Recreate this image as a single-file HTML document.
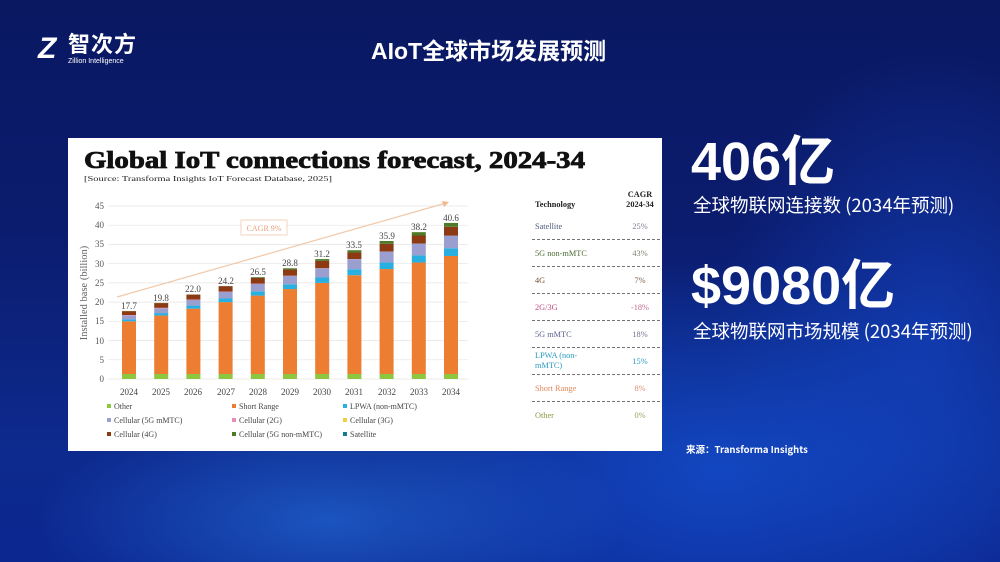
<!DOCTYPE html>
<html><head><meta charset="utf-8">
<style>
html,body{margin:0;padding:0}
body{width:1000px;height:562px;overflow:hidden;position:relative;font-family:"Liberation Sans","Noto Sans CJK SC",sans-serif;
background:
radial-gradient(ellipse 420px 160px at 330px 520px,rgba(40,120,230,.55),transparent 70%),
radial-gradient(ellipse 500px 300px at 720px 470px,rgba(20,80,210,.75),transparent 70%),
radial-gradient(ellipse 300px 400px at 930px 330px,rgba(20,70,200,.6),transparent 70%),
linear-gradient(180deg,#0a1862 0%,#0b1c6e 40%,#0d2a8e 80%,#0c2790 100%);}
.abs{position:absolute}
.w{color:#fff}
</style></head><body>
<div class="abs w" style="left:38px;top:34px;font-size:30px;font-style:italic;font-weight:bold;line-height:30px">Z</div>
<div class="abs w" style="left:68px;top:33px;font-size:22px;font-weight:bold;line-height:24px;letter-spacing:1px">智次方</div>
<div class="abs w" style="left:68px;top:58px;font-size:7px;line-height:8px">Zillion Intelligence</div>
<div class="abs w" style="left:371px;top:37px;font-size:23px;font-weight:bold;line-height:28px">AIoT全球市场发展预测</div>

<div class="abs" style="left:68px;top:138px;width:594px;height:313px;background:#fff"></div>
<svg class="abs" style="left:0;top:0" width="1000" height="562" xmlns="http://www.w3.org/2000/svg" font-family="Liberation Serif, serif">
<text x="84" y="168" font-size="24" font-weight="bold" fill="#111" stroke="#111" stroke-width="0.8" textLength="501" lengthAdjust="spacingAndGlyphs">Global IoT connections forecast, 2024-34</text>
<text x="84" y="181" font-size="7.5" fill="#222" textLength="248" lengthAdjust="spacingAndGlyphs">[Source: Transforma Insights IoT Forecast Database, 2025]</text>
<g stroke="#e4e4e4" stroke-width="0.7">
<line x1="108" x2="468" y1="206" y2="206"/><line x1="108" x2="468" y1="225.2" y2="225.2"/><line x1="108" x2="468" y1="244.4" y2="244.4"/><line x1="108" x2="468" y1="263.7" y2="263.7"/><line x1="108" x2="468" y1="282.9" y2="282.9"/><line x1="108" x2="468" y1="302.1" y2="302.1"/><line x1="108" x2="468" y1="321.3" y2="321.3"/><line x1="108" x2="468" y1="340.6" y2="340.6"/><line x1="108" x2="468" y1="359.8" y2="359.8"/><line x1="108" x2="468" y1="379" y2="379"/>
</g>
<g font-size="9" fill="#555" text-anchor="end">
<text x="104" y="209">45</text><text x="104" y="228">40</text><text x="104" y="247">35</text><text x="104" y="267">30</text><text x="104" y="286">25</text><text x="104" y="305">20</text><text x="104" y="324">15</text><text x="104" y="344">10</text><text x="104" y="363">5</text><text x="104" y="382">0</text>
</g>
<text transform="translate(87,293) rotate(-90)" font-size="10.5" fill="#666" text-anchor="middle">Installed base (billion)</text>
<line x1="117" y1="297" x2="446" y2="203" stroke="#f0c8a8" stroke-width="1.2"/>
<polygon points="449,202 442,201 444,207" fill="#f0b890"/>
<rect x="241" y="220" width="46" height="15" fill="#fff" stroke="#f3c9ad" stroke-width="0.8"/>
<text x="264" y="231" font-size="8" fill="#e8a07a" text-anchor="middle">CAGR 9%</text>
<g id="bars"></g>
<g font-size="9" fill="#444" text-anchor="middle" id="vals">
<text x="129" y="309">17.7</text><text x="161" y="301">19.8</text><text x="193" y="292">22.0</text><text x="226" y="284">24.2</text><text x="258" y="275">26.5</text><text x="290" y="266">28.8</text><text x="322" y="257">31.2</text><text x="354" y="248">33.5</text><text x="387" y="239">35.9</text><text x="419" y="230">38.2</text><text x="451" y="221">40.6</text>
</g>
<g font-size="9" fill="#444" text-anchor="middle">
<text x="129" y="395">2024</text><text x="161" y="395">2025</text><text x="193" y="395">2026</text><text x="226" y="395">2027</text><text x="258" y="395">2028</text><text x="290" y="395">2029</text><text x="322" y="395">2030</text><text x="354" y="395">2031</text><text x="387" y="395">2032</text><text x="419" y="395">2033</text><text x="451" y="395">2034</text>
</g>
<g font-size="8" fill="#444">
<rect x="107" y="404" width="4" height="4" fill="#8dc63f"/><text x="114" y="409">Other</text>
<rect x="232" y="404" width="4" height="4" fill="#ed7d31"/><text x="239" y="409">Short Range</text>
<rect x="343" y="404" width="4" height="4" fill="#2ab0e0"/><text x="350" y="409">LPWA (non-mMTC)</text>
<rect x="107" y="418" width="4" height="4" fill="#9a9fd0"/><text x="114" y="423">Cellular (5G mMTC)</text>
<rect x="232" y="418" width="4" height="4" fill="#e58fb8"/><text x="239" y="423">Cellular (2G)</text>
<rect x="343" y="418" width="4" height="4" fill="#f0d040"/><text x="350" y="423">Cellular (3G)</text>
<rect x="107" y="432" width="4" height="4" fill="#8b3a14"/><text x="114" y="437">Cellular (4G)</text>
<rect x="232" y="432" width="4" height="4" fill="#4f7a2a"/><text x="239" y="437">Cellular (5G non-mMTC)</text>
<rect x="343" y="432" width="4" height="4" fill="#1a7a90"/><text x="350" y="437">Satellite</text>
</g>
<g font-size="8.3">
<text x="535" y="207" font-weight="bold" fill="#222">Technology</text>
<text x="640" y="197" font-weight="bold" fill="#222" text-anchor="middle">CAGR</text>
<text x="640" y="207" font-weight="bold" fill="#222" text-anchor="middle">2024-34</text>
<text x="535" y="229" fill="#4a5a7a">Satellite</text><text x="640" y="229" fill="#7a8090" text-anchor="middle">25%</text>
<text x="535" y="256" fill="#4a6a30">5G non-mMTC</text><text x="640" y="256" fill="#7a8070" text-anchor="middle">43%</text>
<text x="535" y="283" fill="#7a4a2a">4G</text><text x="640" y="283" fill="#7a6050" text-anchor="middle">7%</text>
<text x="535" y="310" fill="#c04a80">2G/3G</text><text x="640" y="310" fill="#c06a90" text-anchor="middle">-18%</text>
<text x="535" y="337" fill="#5a6090">5G mMTC</text><text x="640" y="337" fill="#707090" text-anchor="middle">18%</text>
<text x="535" y="358" fill="#2a9ac0">LPWA (non-</text><text x="535" y="368" fill="#2a9ac0">mMTC)</text><text x="640" y="364" fill="#2a9ac0" text-anchor="middle">15%</text>
<text x="535" y="391" fill="#e08a5a">Short Range</text><text x="640" y="391" fill="#e09070" text-anchor="middle">8%</text>
<text x="535" y="418" fill="#8a9a40">Other</text><text x="640" y="418" fill="#9aa060" text-anchor="middle">0%</text>
</g>
<g stroke="#444" stroke-width="0.7" stroke-dasharray="3,2">
<line x1="532" x2="662" y1="239.5" y2="239.5"/><line x1="532" x2="662" y1="266.5" y2="266.5"/><line x1="532" x2="662" y1="293.5" y2="293.5"/><line x1="532" x2="662" y1="320.5" y2="320.5"/><line x1="532" x2="662" y1="347.5" y2="347.5"/><line x1="532" x2="662" y1="374.5" y2="374.5"/><line x1="532" x2="662" y1="401.5" y2="401.5"/>
</g>
</svg>
<div class="abs w" style="left:691px;top:134px;font-size:54px;font-weight:bold;line-height:56px;font-family:'Liberation Sans','Noto Sans CJK SC',sans-serif">406亿</div>
<div class="abs w" style="left:693px;top:194px;font-size:18.5px;line-height:22px;font-family:'Noto Sans CJK SC',sans-serif">全球物联网连接数 (2034年预测)</div>
<div class="abs w" style="left:691px;top:258px;font-size:54px;font-weight:bold;line-height:56px;font-family:'Liberation Sans','Noto Sans CJK SC',sans-serif">$9080亿</div>
<div class="abs w" style="left:693px;top:320px;font-size:18.5px;line-height:22px;font-family:'Noto Sans CJK SC',sans-serif">全球物联网市场规模 (2034年预测)</div>
<div class="abs w" style="left:686px;top:443px;font-size:9.5px;font-weight:bold;line-height:12px;font-family:'Noto Sans CJK SC',sans-serif">来源：Transforma Insights</div>
<script>
(function(){
var tot=[17.7,19.8,22.0,24.2,26.5,28.8,31.2,33.5,35.9,38.2,40.6];
var sr=[15,16.5,18.3,20,21.7,23.4,25,27,28.6,30.3,32];
var g=document.getElementById('bars'),s='';
function y(v){return 379-3.844*v;}
for(var i=0;i<11;i++){
 var cx=129+i*32.2,t=i/10,x=cx-7;
 var segs=[[1.3,'#8dc63f'],[sr[i]-1.3,'#ed7d31'],[0.5+1.5*t,'#2ab0e0'],[1.0+2.3*t,'#9a9fd0'],[0.15*(1-t),'#e58fb8']];
 var nm=i<4?0.05:0.2+0.8*(i-4)/6;
 var used=0;segs.forEach(function(a){used+=a[0];});
 var g4=tot[i]-used-nm; segs.push([g4,'#8b3a14']); segs.push([nm,'#4f7a2a']);
 var b=0;
 segs.forEach(function(a){if(a[0]<=0)return;var y1=y(b+a[0]),y0=y(b);s+='<rect x="'+x+'" y="'+y1+'" width="14" height="'+(y0-y1)+'" fill="'+a[1]+'"/>';b+=a[0];});
}
g.innerHTML=s;
})();
</script>
</body></html>
